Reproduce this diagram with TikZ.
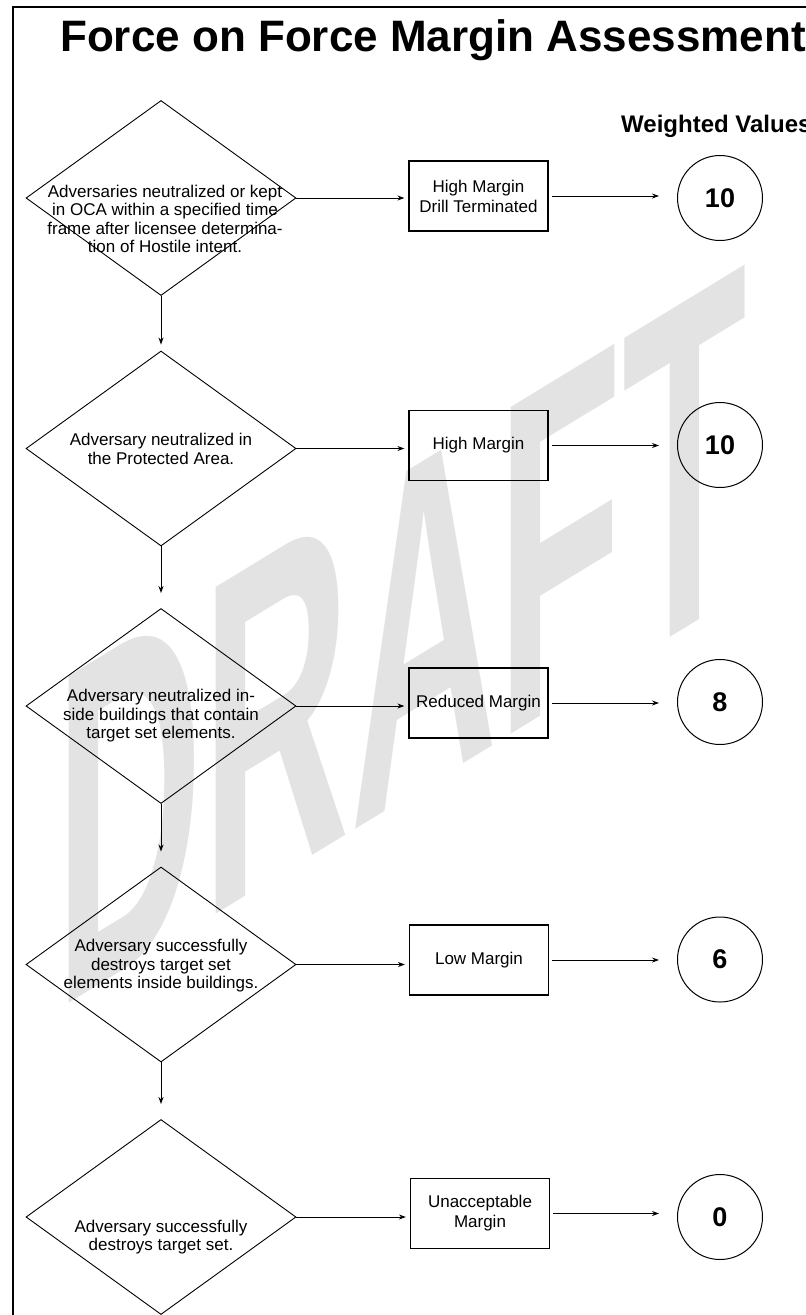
\documentclass[tikz,border=0pt]{standalone}
\usepackage{fontspec}
\setmainfont{Liberation Sans}
\usetikzlibrary{shapes.geometric,arrows.meta}
\begin{document}
\begin{tikzpicture}[
  x=1pt, y=-1pt,
  decision/.style={diamond, draw, line width=0.9pt, minimum width=270pt, minimum height=195pt, inner sep=0pt},
  dtext/.style={align=center, inner sep=0pt, font=\fontsize{17}{18.5}\selectfont},
  box/.style={draw, line width=1.2pt, minimum width=139pt, minimum height=70pt, align=center, inner sep=2pt, font=\fontsize{17}{20}\selectfont},
  val/.style={circle, draw, line width=1pt, minimum size=85pt, font=\fontsize{27}{27}\selectfont\bfseries},
  arr/.style={->, >={Stealth[length=7pt,width=5pt]}, line width=1pt}
]
\useasboundingbox (0,0) rectangle (806,1315);
\clip (0,0) rectangle (806,1315);
\node[anchor=base west, inner sep=0pt, text=black!11, cm={0.43,0.262,0,1,(0,0)}, font=\fontsize{475}{475}\selectfont\bfseries] (draft) at (55,1012) {DRAFT};
\draw[line width=2pt] (13,1330) -- (13,7) -- (830,7);
\node[anchor=base west, inner sep=0pt, font=\fontsize{44}{44}\selectfont\bfseries] (title) at (60,51) {Force on Force Margin Assessment};
\node[anchor=base west, inner sep=0pt, font=\fontsize{24}{24}\selectfont\bfseries] (wv) at (621,132) {Weighted Values};
\node[decision] (q1) at (161,198) {};
\node[decision] (q2) at (161,448.5) {};
\node[decision] (q3) at (161,706) {};
\node[decision] (q4) at (161,964.5) {};
\node[decision] (q5) at (161,1217) {};
\node[dtext] (t1) at (165,219) {Adversaries neutralized or kept\\in OCA within a specified time\\frame after licensee determina-\\tion of Hostile intent.};
\node[dtext] (t2) at (161,449) {Adversary neutralized in\\the Protected Area.};
\node[dtext] (t3) at (161,716) {Adversary neutralized in-\\side buildings that contain\\target set elements.};
\node[dtext] (t4) at (161,966) {Adversary successfully\\destroys target set\\elements inside buildings.};
\node[dtext] (t5) at (161,1237) {Adversary successfully\\destroys target set.};
\node[box] (m1) at (478.5,196) {High Margin\\Drill Terminated};
\node[box] (m2) at (478.5,445.5) {High Margin};
\node[box] (m3) at (478.5,703) {Reduced Margin};
\node[box] (m4) at (479,960) {Low Margin};
\node[box] (m5) at (480,1213.5) {Unacceptable\\Margin};
\node[val] (v1) at (720,198) {10};
\node[val] (v2) at (720,445) {10};
\node[val] (v3) at (720,702) {8};
\node[val] (v4) at (720,959.5) {6};
\node[val] (v5) at (720,1217) {0};
\draw[arr, shorten >=6pt] (q1) -- (q2);
\draw[arr, shorten >=15pt] (q2) -- (q3);
\draw[arr, shorten >=15pt] (q3) -- (q4);
\draw[arr, shorten >=15pt] (q4) -- (q5);
\draw[arr, shorten >=4pt] (q1.east) -- (q1.east -| m1.west);
\draw[arr, shorten >=4pt] (q2.east) -- (q2.east -| m2.west);
\draw[arr, shorten >=4pt] (q3.east) -- (q3.east -| m3.west);
\draw[arr, shorten >=4pt] (q4.east) -- (q4.east -| m4.west);
\draw[arr, shorten >=4pt] (q5.east) -- (q5.east -| m5.west);
\draw[arr, shorten <=3pt, shorten >=18pt] (m1.east) -- (m1.east -| v1.west);
\draw[arr, shorten <=3pt, shorten >=18pt] (m2.east) -- (m2.east -| v2.west);
\draw[arr, shorten <=3pt, shorten >=18pt] (m3.east) -- (m3.east -| v3.west);
\draw[arr, shorten <=3pt, shorten >=18pt] (m4.east) -- (m4.east -| v4.west);
\draw[arr, shorten <=3pt, shorten >=18pt] (m5.east) -- (m5.east -| v5.west);
\end{tikzpicture}
\end{document}
